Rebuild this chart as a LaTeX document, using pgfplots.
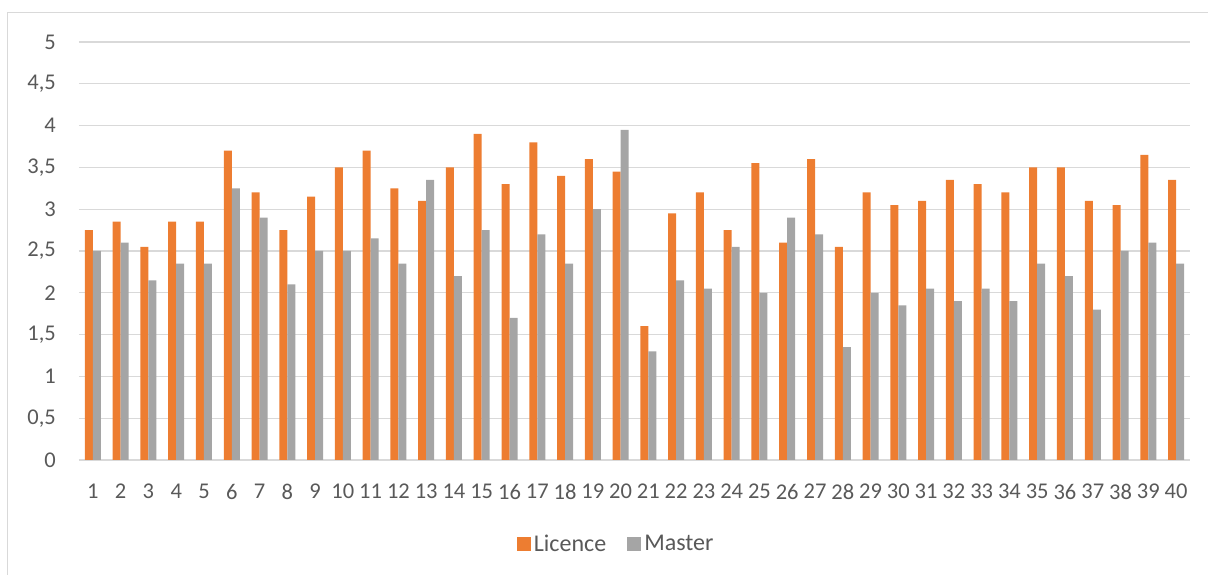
\documentclass[border=0pt]{standalone}
\usepackage{pgfplots}
\pgfplotsset{compat=1.18}
\usepackage{fontspec}
\setmainfont{Carlito}
\definecolor{lic}{HTML}{ED7D31}
\definecolor{mas}{HTML}{A5A5A5}
\definecolor{gridc}{HTML}{D9D9D9}
\definecolor{txt}{HTML}{595959}
\begin{document}
\begin{tikzpicture}[x=1pt,y=1pt]
\path[use as bounding box] (-79,-115) rectangle (1129,460);
\draw[gridc, line width=1pt] (-71,-116) -- (-71,447) -- (1130,447);
\begin{axis}[
  at={(0,0)}, anchor=origin,
  scale only axis, width=1111pt, height=418pt,
  ybar=0pt, bar width=8pt,
  xmin=0.5, xmax=40.5, ymin=0, ymax=5,
  xtick={1,...,40}, ytick={0,0.5,...,5},
  ymajorgrids, grid style={gridc, line width=1.2pt},
  axis line style={draw=none},
  major tick length=0pt,
  tick label style={font=\fontsize{22.5}{27}\selectfont, text=txt},
  /pgf/number format/assume math mode=true,
  yticklabel style={/pgf/number format/.cd, use comma, fixed, precision=1, /tikz/.cd, anchor=east, inner sep=0pt, xshift=-23pt},
  xticklabel style={anchor=north, inner sep=0pt, yshift=-24pt},
  legend style={draw=none, at={(0.484,-0.201)}, anchor=center, legend columns=2,
    font=\fontsize{24}{28}\selectfont, text=txt,
    /tikz/every even column/.append style={column sep=18pt},
    nodes={inner sep=3pt}},
  legend image code/.code={\fill[#1] (0pt,-7pt) rectangle (14pt,7pt);},
]
\addplot[fill=lic, draw=none] coordinates {
(1,2.75) (2,2.85) (3,2.55) (4,2.85) (5,2.85) (6,3.7) (7,3.2) (8,2.75) (9,3.15) (10,3.5)
(11,3.7) (12,3.25) (13,3.1) (14,3.5) (15,3.9) (16,3.3) (17,3.8) (18,3.4) (19,3.6) (20,3.45)
(21,1.6) (22,2.95) (23,3.2) (24,2.75) (25,3.55) (26,2.6) (27,3.6) (28,2.55) (29,3.2) (30,3.05)
(31,3.1) (32,3.35) (33,3.3) (34,3.2) (35,3.5) (36,3.5) (37,3.1) (38,3.05) (39,3.65) (40,3.35)};
\addplot[fill=mas, draw=none] coordinates {
(1,2.5) (2,2.6) (3,2.15) (4,2.35) (5,2.35) (6,3.25) (7,2.9) (8,2.1) (9,2.5) (10,2.5)
(11,2.65) (12,2.35) (13,3.35) (14,2.2) (15,2.75) (16,1.7) (17,2.7) (18,2.35) (19,3.0) (20,3.95)
(21,1.3) (22,2.15) (23,2.05) (24,2.55) (25,2.0) (26,2.9) (27,2.7) (28,1.35) (29,2.0) (30,1.85)
(31,2.05) (32,1.9) (33,2.05) (34,1.9) (35,2.35) (36,2.2) (37,1.8) (38,2.5) (39,2.6) (40,2.35)};
\legend{Licence, Master}
\end{axis}
\end{tikzpicture}
\end{document}
